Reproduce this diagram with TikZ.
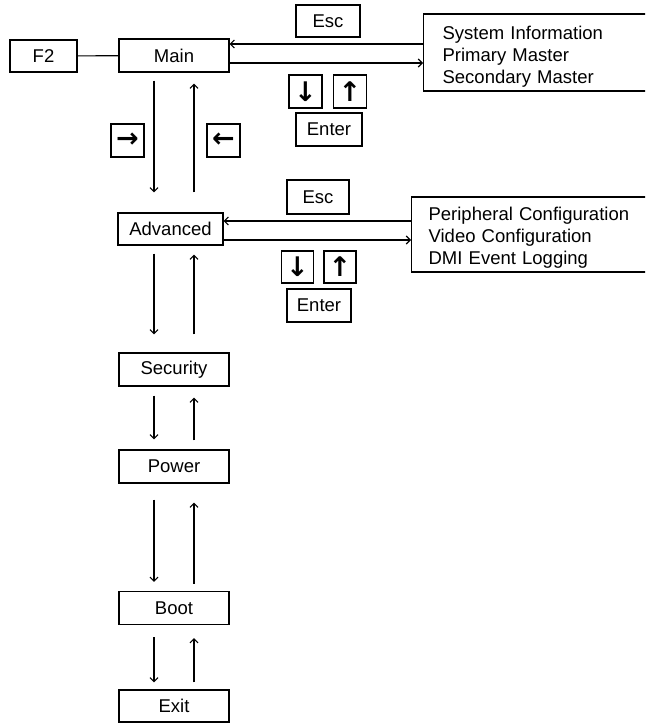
\documentclass[tikz,border=0pt]{standalone}
\usepackage{fontspec}
\setmainfont{Liberation Sans}
\newfontfamily\arrowfont{DejaVu Sans}
\usetikzlibrary{arrows.meta}
\begin{document}
\begin{tikzpicture}[x=1pt,y=-1pt,
  every node/.style={font=\fontsize{18.5}{22}\selectfont},
  box/.style={draw,line width=1.2pt,rectangle,inner sep=0pt,minimum width=110pt,minimum height=33pt},
  keybox/.style={draw,line width=1.2pt,inner sep=0pt,minimum width=33pt,minimum height=33pt,font=\arrowfont\bfseries\fontsize{27}{28}\selectfont},
  smallbox/.style={draw,line width=1.2pt,inner sep=0pt,minimum width=65pt,minimum height=33pt},
  listbox/.style={draw,line width=1.2pt,anchor=west,text width=240pt,align=left,inner ysep=0pt,minimum height=77pt},
  arr/.style={line width=1.1pt,-{Straight Barb[length=4pt,width=8pt]}},
  con/.style={line width=1.1pt}]
\useasboundingbox (0,0) rectangle (645,725);
\clip (0,0) rectangle (645,725);
% top row
\node[box,minimum width=67pt,minimum height=32pt] (F2) at (43.5,56) {F2};
\node[box] (Main) at (174,55.5) {Main};
\node[keybox] (kR) at (127.5,140.5) {→};
\node[keybox] (kL) at (223.5,140.5) {←};
\node[smallbox,minimum width=64pt,minimum height=32pt] (Esc1) at (328,21) {Esc};
\node[keybox] (kD1) at (305.5,91.5) {↓};
\node[keybox] (kU1) at (350,91.5) {↑};
\node[smallbox,minimum width=66pt] (Ent1) at (329,129.5) {Enter};
\node[listbox,inner xsep=19pt] (L1) at (423,52.5) {\rule{0pt}{21pt}System Information\\Primary Master\\Secondary Master};
% advanced row
\node[box,minimum width=105pt,minimum height=32pt] (Adv) at (170.5,229) {Advanced};
\node[smallbox,minimum width=62pt,minimum height=34pt] (Esc2) at (318,197) {Esc};
\node[keybox,minimum width=32pt,minimum height=32pt] (kD2) at (297.5,267) {↓};
\node[keybox,minimum width=32pt,minimum height=32pt] (kU2) at (340,267) {↑};
\node[smallbox,minimum width=64pt] (Ent2) at (319,305.5) {Enter};
\node[listbox,inner xsep=17pt,minimum height=75pt] (L2) at (411,234.5) {\rule{0pt}{19pt}Peripheral Configuration\\Video Configuration\\DMI Event Logging};
% lower column
\node[box] (Sec) at (174,369.5) {Security};
\node[box] (Pow) at (174,466.5) {Power};
\node[box] (Boot) at (174,608) {Boot};
\node[box,minimum height=32pt] (Exit) at (174,706) {Exit};
% connectors
\coordinate (xd) at (154,0);
\coordinate (xu) at (194,0);
\draw[con] (F2) -- (Main);
\coordinate (m1a) at ([yshift=11.5pt]Main.east);
\coordinate (m1b) at ([yshift=-7.5pt]Main.east);
\draw[arr] (L1.west |- m1a) -- (m1a);
\draw[arr] (m1b) -- (L1.west |- m1b);
\coordinate (m2a) at ([yshift=8pt]Adv.east);
\coordinate (m2b) at ([yshift=-11pt]Adv.east);
\draw[arr] (L2.west |- m2a) -- (m2a);
\draw[arr] (m2b) -- (L2.west |- m2b);
\draw[arr,shorten <=8pt,shorten >=20pt] (Main.south -| xd) -- (Adv.north -| xd);
\draw[arr,shorten <=20pt,shorten >=11pt] (Adv.north -| xu) -- (Main.south -| xu);
\draw[arr,shorten <=8pt,shorten >=18pt] (Adv.south -| xd) -- (Sec.north -| xd);
\draw[arr,shorten <=18pt,shorten >=9pt] (Sec.north -| xu) -- (Adv.south -| xu);
\draw[arr,shorten <=9pt,shorten >=10pt] (Sec.south -| xd) -- (Pow.north -| xd);
\draw[arr,shorten <=9pt,shorten >=11pt] (Pow.north -| xu) -- (Sec.south -| xu);
\draw[arr,shorten <=16pt,shorten >=9pt] (Pow.south -| xd) -- (Boot.north -| xd);
\draw[arr,shorten <=7pt,shorten >=19pt] (Boot.north -| xu) -- (Pow.south -| xu);
\draw[arr,shorten <=12pt,shorten >=7pt] (Boot.south -| xd) -- (Exit.north -| xd);
\draw[arr,shorten <=7pt,shorten >=13pt] (Exit.north -| xu) -- (Boot.south -| xu);
\end{tikzpicture}
\end{document}
